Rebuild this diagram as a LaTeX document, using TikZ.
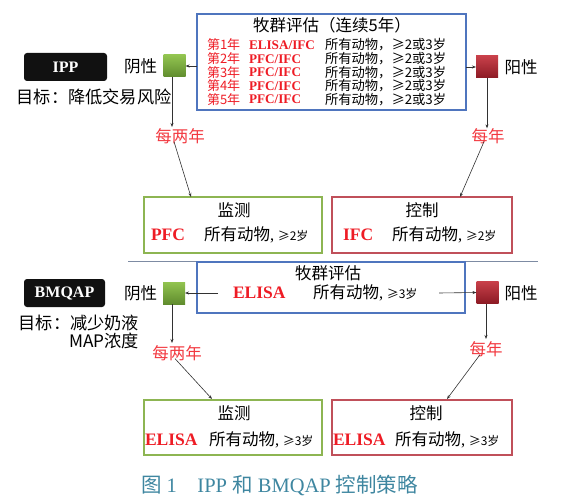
\documentclass[tikz,border=0pt]{standalone}
\usepackage{fontspec}
\setmainfont{Liberation Serif}
\newfontfamily\cjk{Noto Sans CJK SC}
\usetikzlibrary{arrows.meta}
\definecolor{boxblue}{HTML}{4F75BE}
\definecolor{boxgreen}{HTML}{8DB552}
\definecolor{boxred}{HTML}{C0505A}
\definecolor{txtred}{HTML}{EE1C25}
\definecolor{labred}{HTML}{F2383F}
\definecolor{capblue}{HTML}{3E86A0}
\definecolor{seprule}{HTML}{7D8BA3}
\newcommand{\fs}[1]{\fontsize{#1}{#1}\selectfont}
\newcommand{\smallge}[1]{{\fs{12}#1}}
\begin{document}
\begin{tikzpicture}[x=1pt,y=-1pt,
  every node/.style={inner sep=0pt, outer sep=0pt},
  bluebox/.style={draw=boxblue, line width=1.2pt},
  greenbox/.style={draw=boxgreen, line width=1.2pt},
  redbox/.style={draw=boxred, line width=1.2pt},
  gsquare/.style={minimum width=22pt, minimum height=22pt, top color={rgb,255:red,146;green,196;blue,80}, bottom color={rgb,255:red,96;green,140;blue,46}},
  rsquare/.style={minimum width=22pt, minimum height=22pt, top color={rgb,255:red,200;green,64;blue,74}, bottom color={rgb,255:red,140;green,26;blue,36}},
  blackbox/.style={fill={rgb,255:red,17;green,17;blue,17}, rounded corners=3pt, text=white, font=\bfseries\fs{16}},
  cjkt/.style={font=\cjk\fs{16.5}},
  goal/.style={font=\cjk\fs{17.2}},
  lab/.style={font=\cjk\fs{16.5}, text=labred},
  yr/.style={anchor=west, font=\cjk\fs{13}, text=txtred},
  meth/.style={anchor=west, font=\bfseries\fs{13.2}, text=txtred},
  rowtxt/.style={anchor=west, font=\cjk\fs{13.3}},
  bigmeth/.style={anchor=west, font=\bfseries\fs{17.5}, text=txtred},
  bigtxt/.style={anchor=west, font=\cjk\fs{16.5}},
  arr/.style={-{Stealth[length=4pt,width=3pt]}, line width=0.6pt, draw={rgb,255:red,50;green,50;blue,50}}
]
\useasboundingbox (0,0) rectangle (564,502);

% ---------- IPP section ----------
\node[bluebox, minimum width=269pt, minimum height=96pt] (box1) at (331.5,62) {};
\node[font=\cjk\fs{16.5}] (title1) at (332,25) {牧群评估（连续5年）};
\foreach \i/\y/\m in {1/45/{ELISA/IFC}, 2/59/{PFC/IFC}, 3/72.5/{PFC/IFC}, 4/86/{PFC/IFC}, 5/99.5/{PFC/IFC}}{
  \node[yr] (yr\i) at (207,\y) {第\i 年};
  \node[meth] (me\i) at (249,\y) {\m};
  \node[rowtxt] (rt\i) at (325,\y) {所有动物，≥2或3岁};
}
\node[gsquare] (g1) at (174.5,66) {};
\node[rsquare] (r1) at (487,67) {};
\node[cjkt] (neg1) at (140.5,66) {阴性};
\node[cjkt] (pos1) at (521,67) {阳性};
\node[blackbox, minimum width=83pt, minimum height=28pt] (ipp) at (65.5,67) {IPP};
\node[goal] (goal1) at (94,97) {目标：降低交易风险};

\draw[arr] (box1.west |- g1) -- (g1.east);
\draw[arr] (box1.east |- r1) -- (r1.west);

\node[lab] (lab1) at (180,136) {每两年};
\node[lab] (lab2) at (488,136) {每年};
\draw[arr] (g1.south -| 172,0) -- (172,127);
\draw[arr] (r1.south) -- (r1.south |- lab2.north);

\node[greenbox, minimum width=178pt, minimum height=56pt] (mon1) at (233,225) {};
\node[redbox, minimum width=180pt, minimum height=56pt] (con1) at (422,225) {};
\coordinate (t1) at (191,197);
\coordinate (t2) at (460,197);
\draw[arr] ([xshift=-6pt,yshift=2pt]lab1.south) -- (t1);
\draw[arr] ([xshift=-4pt,yshift=2pt]lab2.south) -- (t2);

\node[cjkt] (mt1) at (234,210) {监测};
\node[bigmeth] (mm1) at (151,235) {PFC};
\node[bigtxt] (mx1) at (204,235) {所有动物{\rmfamily ,} \smallge{≥2岁}};
\node[cjkt] (ct1) at (422,210) {控制};
\node[bigmeth] (cm1) at (343,235) {IFC};
\node[bigtxt] (cx1) at (392,235) {所有动物{\rmfamily ,} \smallge{≥2岁}};

\coordinate (sepL) at (128,261.5);
\coordinate (sepR) at (538,261.5);
\draw[seprule, line width=1.4pt] (sepL) -- (sepR);

% ---------- BMQAP section ----------
\node[bluebox, minimum width=268pt, minimum height=51pt] (box2) at (331,287.5) {};
\node[font=\cjk\fs{16.5}] (title2) at (328,273) {牧群评估};
\node[bigmeth] (bm) at (233,293) {ELISA};
\node[bigtxt] (bx) at (313,293) {所有动物{\rmfamily ,} \smallge{≥3岁}};
\node[gsquare] (g2) at (174,293) {};
\node[rsquare] (r2) at (487.5,292.5) {};
\node[cjkt] (neg2) at (140.5,293) {阴性};
\node[cjkt] (pos2) at (521,293) {阳性};
\node[blackbox, minimum width=81pt, minimum height=28pt] (bmq) at (64.5,293) {BMQAP};
\node[goal, align=right, anchor=north east] (goal2) at (139,315) {目标：减少奶液\\[1pt]MAP浓度};

\coordinate (s2l) at (218,293);
\coordinate (s2r) at (439,293);
\draw[arr] (s2l) -- (g2.east);
\draw[arr] (s2r) -- (r2.west);

\node[lab] (lab3) at (177,353) {每两年};
\node[lab] (lab4) at (486,349) {每年};
\draw[arr] (g2.south -| 172,0) -- (172,343);
\draw[arr] (r2.south -| 486,0) -- (486,339);

\node[greenbox, minimum width=178pt, minimum height=55pt] (mon2) at (233,427.5) {};
\node[redbox, minimum width=180pt, minimum height=55pt] (con2) at (422,427.5) {};
\coordinate (t3) at (212,399);
\coordinate (t4) at (447,399);
\draw[arr] ([xshift=-2pt,yshift=2pt]lab3.south) -- (t3);
\draw[arr] ([xshift=-6pt,yshift=2pt]lab4.south) -- (t4);

\node[cjkt] (mt2) at (234,413) {监测};
\node[bigmeth] (mm2) at (145,440) {ELISA};
\node[bigtxt] (mx2) at (209,440) {所有动物{\rmfamily ,} \smallge{≥3岁}};
\node[cjkt] (ct2) at (426,413) {控制};
\node[bigmeth] (cm2) at (333,440) {ELISA};
\node[bigtxt] (cx2) at (395,440) {所有动物{\rmfamily ,} \smallge{≥3岁}};

\node[text=capblue, font=\fs{20.5}] (cap) at (279.5,486) {{\cjk 图} 1\quad IPP {\cjk 和} BMQAP {\cjk 控制策略}};
\end{tikzpicture}
\end{document}
